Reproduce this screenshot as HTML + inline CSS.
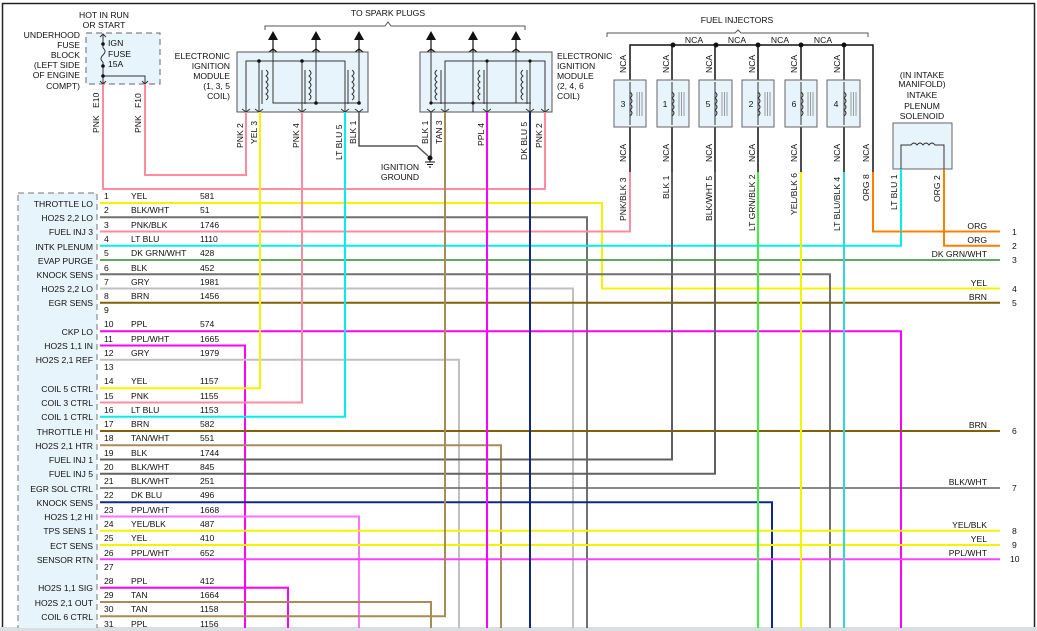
<!DOCTYPE html>
<html><head><meta charset="utf-8"><style>
html,body{margin:0;padding:0;background:#fff}
svg{display:block}
text{font-family:"Liberation Sans",Arial,sans-serif;font-size:8.6px;fill:#111}
.r{text-anchor:end}.m{text-anchor:middle}
</style></head><body>
<svg width="1037" height="631" viewBox="0 0 1037 631" xmlns="http://www.w3.org/2000/svg">
<rect x="0" y="0" width="1037" height="631" fill="#fff"/>
<path d="M2.5 631V3.5H1034.5V631" fill="none" stroke="#222" stroke-width="1.5"/>
<rect x="0" y="627" width="1037" height="4" fill="#d9dee2"/>

<rect x="18" y="193" width="79" height="440" fill="#e8f4fc" stroke="#777" stroke-dasharray="6,4"/>

<rect x="86" y="33" width="74" height="51" fill="#e8f4fc" stroke="#666" stroke-dasharray="6,4"/>
<g stroke="#333" fill="none" stroke-width="1">
<path d="M103 34V48M103 62V84M103 76H145V84"/>
<path d="M103 48q4 3 0 7t0 7"/>
<path d="M100 37l3-3l3 3M100 81l3 3l3-3M142 81l3 3l3-3"/>
</g>
<g fill="#111"><circle cx="103" cy="44" r="1.8"/><circle cx="103" cy="66" r="1.8"/><circle cx="103" cy="76" r="1.8"/></g>
<text x="108" y="46">IGN</text><text x="108" y="57">FUSE</text><text x="108" y="67">15A</text>
<text class="m" x="104" y="18">HOT IN RUN</text><text class="m" x="104" y="28">OR START</text>
<text class="r" x="80" y="38">UNDERHOOD</text><text class="r" x="80" y="48">FUSE</text><text class="r" x="80" y="58">BLOCK</text>
<text class="r" x="80" y="68">(LEFT SIDE</text><text class="r" x="80" y="78">OF ENGINE</text><text class="r" x="80" y="89">COMPT)</text>
<text transform="translate(99,108) rotate(-90)">E10</text>
<text transform="translate(141,108) rotate(-90)">F10</text>
<text transform="translate(99,133) rotate(-90)">PNK</text>
<text transform="translate(141,133) rotate(-90)">PNK</text>

<path d="M265 30V26H385L388 22L391 26H525V30" fill="none" stroke="#555"/>
<text class="m" x="388" y="16">TO SPARK PLUGS</text>
<g stroke="#111" stroke-width="1.2" fill="none">
<path d="M273 38V52M316 38V52M359 38V52M431 38V52M473 38V52M516 38V52"/>
<path d="M269 52l4-3l4 3M312 52l4-3l4 3M355 52l4-3l4 3M427 52l4-3l4 3M469 52l4-3l4 3M512 52l4-3l4 3"/>
</g>
<g fill="#111"><path d="M268 40l5-9l5 9zM311 40l5-9l5 9zM354 40l5-9l5 9zM426 40l5-9l5 9zM468 40l5-9l5 9zM511 40l5-9l5 9z"/></g>

<rect x="237" y="52" width="131" height="60" fill="#e8f4fc" stroke="#555"/>
<g stroke="#333" fill="none" stroke-width="1">
<path d="M246 112V61H345V112M259 61V112M302 61V112"/>
<path d="M273 52V103H359V52M316 52V103"/>
<path d="M262 70v34M305 70v34M348 70v34"/>
<path d="M266 70q4 3 0 6q4 3 0 6q4 3 0 6q4 3 0 6q4 3 0 6M309 70q4 3 0 6q4 3 0 6q4 3 0 6q4 3 0 6q4 3 0 6M352 70q4 3 0 6q4 3 0 6q4 3 0 6q4 3 0 6q4 3 0 6"/>
<path d="M242 109l4 3l4-3M255 109l4 3l4-3M298 109l4 3l4-3M341 109l4 3l4-3M355 109l4 3l4-3"/>
</g>
<g fill="#111"><circle cx="259" cy="61" r="1.8"/><circle cx="302" cy="61" r="1.8"/><circle cx="316" cy="103" r="1.8"/><circle cx="359" cy="103" r="1.8"/></g>
<text class="r" x="230" y="59">ELECTRONIC</text><text class="r" x="230" y="69">IGNITION</text><text class="r" x="230" y="79">MODULE</text><text class="r" x="230" y="89">(1, 3, 5</text><text class="r" x="230" y="99">COIL)</text>

<rect x="420" y="52" width="132" height="60" fill="#e8f4fc" stroke="#555"/>
<g stroke="#333" fill="none" stroke-width="1">
<path d="M431 52V103H487V112M445 112V61H545V112M530 61V112"/>
<path d="M473 52V112M516 52V103"/>
<path d="M487 61V103M487 103H531"/>
<path d="M441 70v34M484 70v34M527 70v34"/>
<path d="M437 70q-4 3 0 6q-4 3 0 6q-4 3 0 6q-4 3 0 6q-4 3 0 6M480 70q-4 3 0 6q-4 3 0 6q-4 3 0 6q-4 3 0 6q-4 3 0 6M523 70q-4 3 0 6q-4 3 0 6q-4 3 0 6q-4 3 0 6q-4 3 0 6"/>
<path d="M427 109l4 3l4-3M441 109l4 3l4-3M483 109l4 3l4-3M526 109l4 3l4-3M541 109l4 3l4-3"/>
</g>
<g fill="#111"><circle cx="431" cy="103" r="1.6"/><circle cx="473" cy="103" r="1.6"/><circle cx="487" cy="61" r="1.6"/><circle cx="530" cy="61" r="1.6"/></g>
<text x="557" y="59">ELECTRONIC</text><text x="557" y="69">IGNITION</text><text x="557" y="79">MODULE</text><text x="557" y="89">(2, 4, 6</text><text x="557" y="99">COIL)</text>

<text transform="translate(243,148) rotate(-90)">PNK  2</text>
<text transform="translate(257,144) rotate(-90)">YEL  3</text>
<text transform="translate(299,148) rotate(-90)">PNK  4</text>
<text transform="translate(342,160) rotate(-90)">LT BLU  5</text>
<text transform="translate(356,144) rotate(-90)">BLK  1</text>
<text transform="translate(428,144) rotate(-90)">BLK  1</text>
<text transform="translate(442,144) rotate(-90)">TAN  3</text>
<text transform="translate(484,146) rotate(-90)">PPL  4</text>
<text transform="translate(527,160) rotate(-90)">DK BLU  5</text>
<text transform="translate(542,148) rotate(-90)">PNK  2</text>

<path d="M359 112V146H417L428 156M431 112V156" fill="none" stroke="#555" stroke-width="1.5"/>
<circle cx="430" cy="158" r="2.5" fill="#111"/>
<path d="M425 162h10M427 164.5h6M429 167h2M430 160v2" stroke="#111" stroke-width="1"/>
<text class="m" x="400" y="170">IGNITION</text><text class="m" x="400" y="180">GROUND</text>

<path d="M607 37V33H735L738 30L741 33H868V37" fill="none" stroke="#555"/>
<text class="m" x="737" y="23">FUEL INJECTORS</text>
<path d="M630 80V45H873V172M672 45V80M715 45V80M758 45V80M801 45V80M844 45V80" fill="none" stroke="#111" stroke-width="1.5"/>
<path d="M630 127V172M672 127V172M715 127V172M758 127V172M801 127V172M844 127V172" fill="none" stroke="#111" stroke-width="1.5"/>
<g fill="#111"><circle cx="673" cy="45" r="2.5"/><circle cx="716" cy="45" r="2.5"/><circle cx="758" cy="45" r="2.5"/><circle cx="801" cy="45" r="2.5"/><circle cx="844" cy="45" r="2.5"/></g>
<g fill="#fff"><rect x="682" y="36" width="28" height="8"/><rect x="725" y="36" width="28" height="8"/><rect x="768" y="36" width="28" height="8"/><rect x="810" y="36" width="28" height="8"/></g>
<text class="m" x="694" y="43">NCA</text><text class="m" x="737" y="43">NCA</text><text class="m" x="780" y="43">NCA</text><text class="m" x="823" y="43">NCA</text>
<g>
<rect x="614" y="80" width="32" height="47" fill="#e8f4fc" stroke="#666"/>
<rect x="657" y="80" width="32" height="47" fill="#e8f4fc" stroke="#666"/>
<rect x="699" y="80" width="33" height="47" fill="#e8f4fc" stroke="#666"/>
<rect x="742" y="80" width="32" height="47" fill="#e8f4fc" stroke="#666"/>
<rect x="785" y="80" width="32" height="47" fill="#e8f4fc" stroke="#666"/>
<rect x="827" y="80" width="33" height="47" fill="#e8f4fc" stroke="#666"/>
</g>
<g stroke="#333" fill="none" stroke-width="1">
<path d="M630 82v43M672 82v43M715 82v43M758 82v43M801 82v43M844 82v43"/>
<path d="M630 92q4 3 0 6q4 3 0 6q4 3 0 6q4 3 0 6M672 92q4 3 0 6q4 3 0 6q4 3 0 6q4 3 0 6M715 92q4 3 0 6q4 3 0 6q4 3 0 6q4 3 0 6M758 92q4 3 0 6q4 3 0 6q4 3 0 6q4 3 0 6M801 92q4 3 0 6q4 3 0 6q4 3 0 6q4 3 0 6M844 92q4 3 0 6q4 3 0 6q4 3 0 6q4 3 0 6"/>
<path d="M637 92v24M639.5 92v24M642 92v24M679 92v24M681.5 92v24M684 92v24M722 92v24M724.5 92v24M727 92v24M765 92v24M767.5 92v24M770 92v24M808 92v24M810.5 92v24M813 92v24M851 92v24M853.5 92v24M856 92v24" stroke="#777" stroke-width="0.7"/>
</g>
<text class="m" x="623" y="107">3</text><text class="m" x="665" y="107">1</text><text class="m" x="708" y="107">5</text><text class="m" x="751" y="107">2</text><text class="m" x="794" y="107">6</text><text class="m" x="836" y="107">4</text>
<g>
<text transform="translate(626,73) rotate(-90)">NCA</text><text transform="translate(669,73) rotate(-90)">NCA</text><text transform="translate(712,73) rotate(-90)">NCA</text><text transform="translate(755,73) rotate(-90)">NCA</text><text transform="translate(797,73) rotate(-90)">NCA</text><text transform="translate(840,73) rotate(-90)">NCA</text>
<text transform="translate(626,162) rotate(-90)">NCA</text><text transform="translate(669,162) rotate(-90)">NCA</text><text transform="translate(712,162) rotate(-90)">NCA</text><text transform="translate(755,162) rotate(-90)">NCA</text><text transform="translate(797,162) rotate(-90)">NCA</text><text transform="translate(840,162) rotate(-90)">NCA</text><text transform="translate(869,162) rotate(-90)">NCA</text>
<text transform="translate(626,221) rotate(-90)">PNK/BLK  3</text>
<text transform="translate(669,199) rotate(-90)">BLK  1</text>
<text transform="translate(712,221) rotate(-90)">BLK/WHT  5</text>
<text transform="translate(755,231) rotate(-90)">LT GRN/BLK  2</text>
<text transform="translate(797,215) rotate(-90)">YEL/BLK  6</text>
<text transform="translate(840,231) rotate(-90)">LT BLU/BLK  4</text>
<text transform="translate(869,201) rotate(-90)">ORG  8</text>
<text transform="translate(897,210) rotate(-90)">LT BLU  1</text>
<text transform="translate(940,202) rotate(-90)">ORG  2</text>
</g>

<text class="m" x="922" y="78">(IN INTAKE</text><text class="m" x="922" y="87">MANIFOLD)</text><text class="m" x="922" y="98">INTAKE</text><text class="m" x="922" y="109">PLENUM</text><text class="m" x="922" y="119">SOLENOID</text>
<rect x="893" y="123" width="59" height="46" fill="#e8f4fc" stroke="#666"/>
<path d="M901 169V145H911q3-4 6 0q3-4 6 0q3-4 6 0q3-4 6 0H944V169" fill="none" stroke="#333"/>

<g fill="none" stroke-width="2">
<path d="M103 84V189H545V112" stroke="#ff8c9e"/>
<path d="M145 84V175H246V112" stroke="#ff8c9e"/>
<path d="M100 203H602V288.5H1000" stroke="#f4f400"/>
<path d="M100 217.3H587V631" stroke="#707070"/>
<path d="M100 231.5H630V172" stroke="#ff8c9e"/>
<path d="M100 245.8H901V169" stroke="#00eeee"/>
<path d="M100 260H1000" stroke="#60a860"/>
<path d="M100 274.3H830V631" stroke="#707070"/>
<path d="M100 288.5H573V631" stroke="#c0c0c0"/>
<path d="M100 302.8H1000" stroke="#806000"/>
<path d="M100 331.3H901V631" stroke="#ff00ff"/>
<path d="M100 345.5H245V631" stroke="#ff00ff"/>
<path d="M100 359.8H459V631" stroke="#c0c0c0"/>
<path d="M100 388.3H260V112" stroke="#f4f400"/>
<path d="M100 402.5H302V112" stroke="#ff8c9e"/>
<path d="M100 416.8H345V112" stroke="#00eeee"/>
<path d="M100 431H1000" stroke="#806000"/>
<path d="M100 445.3H501V631" stroke="#a88c58"/>
<path d="M100 459.5H672V172" stroke="#606060"/>
<path d="M100 473.8H715V172" stroke="#606060"/>
<path d="M100 488H1000" stroke="#606060" stroke-width="1.5"/>
<path d="M100 502.3H772V631" stroke="#10288a"/>
<path d="M100 516.5H359V631" stroke="#ff70ff"/>
<path d="M100 530.8H1000" stroke="#f4f400"/>
<path d="M100 545H1000" stroke="#f4f400"/>
<path d="M100 559.3H1000" stroke="#ff40ff"/>
<path d="M100 587.8H288V631" stroke="#ff00ff"/>
<path d="M100 602H431V631" stroke="#a88c58"/>
<path d="M100 616.3H445V112" stroke="#a88c58"/>
<path d="M100 630.5H487V112" stroke="#ff00ff"/>
<path d="M530 112V631" stroke="#10288a"/>
<path d="M758 172V631" stroke="#40f040"/>
<path d="M801 172V631" stroke="#f4f400"/>
<path d="M844 172V631" stroke="#30d8d8"/>
<path d="M873 172V231.5H1000" stroke="#ff8000"/>
<path d="M944 169V245.8H1000" stroke="#ff8000"/>
</g>

<text class="r" x="987" y="229">ORG</text><text x="1012" y="235">1</text>
<text class="r" x="987" y="243">ORG</text><text x="1012" y="249">2</text>
<text class="r" x="987" y="257">DK GRN/WHT</text><text x="1012" y="263">3</text>
<text class="r" x="987" y="286">YEL</text><text x="1012" y="292">4</text>
<text class="r" x="987" y="300">BRN</text><text x="1012" y="306">5</text>
<text class="r" x="987" y="428">BRN</text><text x="1012" y="434">6</text>
<text class="r" x="987" y="485">BLK/WHT</text><text x="1012" y="491">7</text>
<text class="r" x="987" y="528">YEL/BLK</text><text x="1012" y="534">8</text>
<text class="r" x="987" y="542">YEL</text><text x="1012" y="548">9</text>
<text class="r" x="987" y="556">PPL/WHT</text><text x="1010" y="562">10</text>

<g>
<text class="r" x="93" y="207">THROTTLE LO</text><text x="104" y="199">1</text><text x="131" y="199">YEL</text><text x="200" y="199">581</text>
<text class="r" x="93" y="221">HO2S 2,2 LO</text><text x="104" y="213">2</text><text x="131" y="213">BLK/WHT</text><text x="200" y="213">51</text>
<text class="r" x="93" y="235">FUEL INJ 3</text><text x="104" y="228">3</text><text x="131" y="228">PNK/BLK</text><text x="200" y="228">1746</text>
<text class="r" x="93" y="250">INTK PLENUM</text><text x="104" y="242">4</text><text x="131" y="242">LT BLU</text><text x="200" y="242">1110</text>
<text class="r" x="93" y="264">EVAP PURGE</text><text x="104" y="256">5</text><text x="131" y="256">DK GRN/WHT</text><text x="200" y="256">428</text>
<text class="r" x="93" y="278">KNOCK SENS</text><text x="104" y="271">6</text><text x="131" y="271">BLK</text><text x="200" y="271">452</text>
<text class="r" x="93" y="292">HO2S 2,2 LO</text><text x="104" y="285">7</text><text x="131" y="285">GRY</text><text x="200" y="285">1981</text>
<text class="r" x="93" y="306">EGR SENS</text><text x="104" y="299">8</text><text x="131" y="299">BRN</text><text x="200" y="299">1456</text>
<text x="104" y="313">9</text>
<text class="r" x="93" y="335">CKP LO</text><text x="104" y="327">10</text><text x="131" y="327">PPL</text><text x="200" y="327">574</text>
<text class="r" x="93" y="349">HO2S 1,1 IN</text><text x="104" y="342">11</text><text x="131" y="342">PPL/WHT</text><text x="200" y="342">1665</text>
<text class="r" x="93" y="363">HO2S 2,1 REF</text><text x="104" y="356">12</text><text x="131" y="356">GRY</text><text x="200" y="356">1979</text>
<text x="104" y="370">13</text>
<text class="r" x="93" y="392">COIL 5 CTRL</text><text x="104" y="384">14</text><text x="131" y="384">YEL</text><text x="200" y="384">1157</text>
<text class="r" x="93" y="406">COIL 3 CTRL</text><text x="104" y="399">15</text><text x="131" y="399">PNK</text><text x="200" y="399">1155</text>
<text class="r" x="93" y="420">COIL 1 CTRL</text><text x="104" y="413">16</text><text x="131" y="413">LT BLU</text><text x="200" y="413">1153</text>
<text class="r" x="93" y="435">THROTTLE HI</text><text x="104" y="427">17</text><text x="131" y="427">BRN</text><text x="200" y="427">582</text>
<text class="r" x="93" y="449">HO2S 2,1 HTR</text><text x="104" y="441">18</text><text x="131" y="441">TAN/WHT</text><text x="200" y="441">551</text>
<text class="r" x="93" y="463">FUEL INJ 1</text><text x="104" y="456">19</text><text x="131" y="456">BLK</text><text x="200" y="456">1744</text>
<text class="r" x="93" y="477">FUEL INJ 5</text><text x="104" y="470">20</text><text x="131" y="470">BLK/WHT</text><text x="200" y="470">845</text>
<text class="r" x="93" y="492">EGR SOL CTRL</text><text x="104" y="484">21</text><text x="131" y="484">BLK/WHT</text><text x="200" y="484">251</text>
<text class="r" x="93" y="506">KNOCK SENS</text><text x="104" y="498">22</text><text x="131" y="498">DK BLU</text><text x="200" y="498">496</text>
<text class="r" x="93" y="520">HO2S 1,2 HI</text><text x="104" y="513">23</text><text x="131" y="513">PPL/WHT</text><text x="200" y="513">1668</text>
<text class="r" x="93" y="534">TPS SENS 1</text><text x="104" y="527">24</text><text x="131" y="527">YEL/BLK</text><text x="200" y="527">487</text>
<text class="r" x="93" y="549">ECT SENS</text><text x="104" y="541">25</text><text x="131" y="541">YEL</text><text x="200" y="541">410</text>
<text class="r" x="93" y="563">SENSOR RTN</text><text x="104" y="556">26</text><text x="131" y="556">PPL/WHT</text><text x="200" y="556">652</text>
<text x="104" y="570">27</text>
<text class="r" x="93" y="591">HO2S 1,1 SIG</text><text x="104" y="584">28</text><text x="131" y="584">PPL</text><text x="200" y="584">412</text>
<text class="r" x="93" y="606">HO2S 2,1 OUT</text><text x="104" y="598">29</text><text x="131" y="598">TAN</text><text x="200" y="598">1664</text>
<text class="r" x="93" y="620">COIL 6 CTRL</text><text x="104" y="612">30</text><text x="131" y="612">TAN</text><text x="200" y="612">1158</text>
<text class="r" x="93" y="634">COIL 4 CTRL</text><text x="104" y="627">31</text><text x="131" y="627">PPL</text><text x="200" y="627">1156</text>
</g>
<rect x="0" y="628" width="1037" height="3" fill="#d9dee2"/>
</svg>
</body></html>
